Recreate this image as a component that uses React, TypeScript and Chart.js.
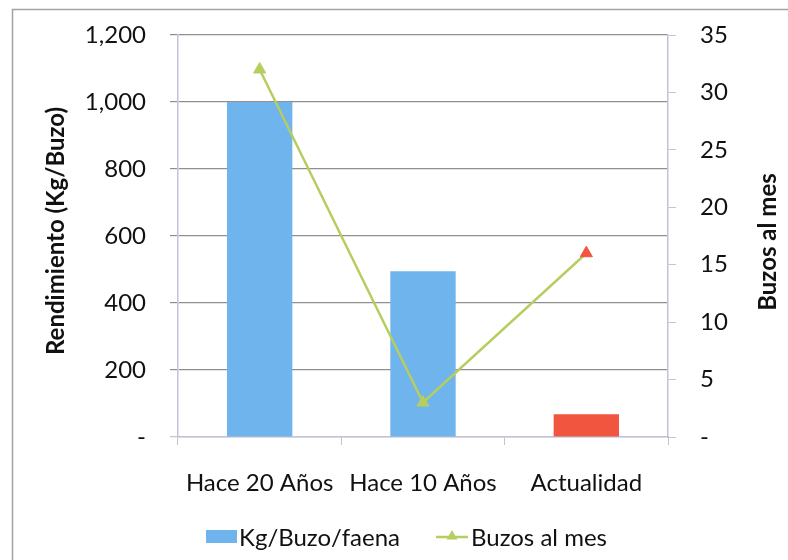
import React, { useEffect, useRef } from "react";
import { Chart, registerables } from "chart.js";

Chart.register(...registerables);

const categories = ["Hace 20 Años", "Hace 10 Años", "Actualidad"];
const kgPorBuzo = [1000, 495, 68];
const buzosAlMes = [32, 3, 16];
const barColors = ["#6fb4ec", "#6fb4ec", "#f2553f"];
const pointColors = ["#b6cd5f", "#b6cd5f", "#f2553f"];
const barLabel = "Kg/Buzo/faena";
const lineLabel = "Buzos al mes";
const leftTitle = "Rendimiento (Kg/Buzo)";
const rightTitle = "Buzos al mes";

const FONT = "Lato";
const LINE_COLOR = "#b6cd5f";
const GRID = "#8f8f8f";
const AXIS = "#c3c3d6";

function fmt(v: number) {
  return v === 0 ? "-" : v.toLocaleString("en-US");
}

function triangle(ctx: CanvasRenderingContext2D, x: number, y: number, r: number) {
  ctx.beginPath();
  ctx.moveTo(x, y - r);
  ctx.lineTo(x + r * 0.9, y + r * 0.6);
  ctx.lineTo(x - r * 0.9, y + r * 0.6);
  ctx.closePath();
  ctx.fill();
}

const decor = {
  id: "decor",
  afterDraw(chart: any) {
    const ctx: CanvasRenderingContext2D = chart.ctx;
    ctx.save();
    // outer frame
    ctx.strokeStyle = "#a3a3a3";
    ctx.lineWidth = 1.5;
    ctx.beginPath();
    ctx.moveTo(12.5, 560);
    ctx.lineTo(12.5, 9.5);
    ctx.lineTo(788, 9.5);
    ctx.stroke();
    // axis titles
    ctx.fillStyle = "#111";
    ctx.font = `bold 24px ${FONT}`;
    ctx.textAlign = "center";
    ctx.textBaseline = "middle";
    ctx.save();
    ctx.translate(56, 231);
    ctx.rotate(-Math.PI / 2);
    ctx.fillText(leftTitle, 0, 0);
    ctx.restore();
    ctx.save();
    ctx.translate(768, 242);
    ctx.rotate(-Math.PI / 2);
    ctx.fillText(rightTitle, 0, 0);
    ctx.restore();
    // legend
    const ly = 538;
    ctx.font = `24px ${FONT}`;
    ctx.textAlign = "left";
    ctx.fillStyle = barColors[0];
    ctx.fillRect(206, ly - 8, 31, 13);
    ctx.fillStyle = "#111";
    ctx.fillText(barLabel, 239, ly);
    ctx.strokeStyle = LINE_COLOR;
    ctx.lineWidth = 2.5;
    ctx.beginPath();
    ctx.moveTo(436, ly - 1);
    ctx.lineTo(468, ly - 1);
    ctx.stroke();
    ctx.fillStyle = LINE_COLOR;
    triangle(ctx, 452, ly - 2, 6);
    ctx.fillStyle = "#111";
    ctx.fillText(lineLabel, 471, ly);
    ctx.restore();
  },
};

export default function App() {
  const ref = useRef<HTMLCanvasElement>(null);
  useEffect(() => {
    document.body.style.margin = "0";
    Chart.defaults.font.family = FONT;
    Chart.defaults.color = "#111";
    const chart = new Chart(ref.current!, {
      type: "bar",
      data: {
        labels: categories,
        datasets: [
          {
            type: "line",
            label: lineLabel,
            data: buzosAlMes,
            yAxisID: "y1",
            borderColor: LINE_COLOR,
            borderWidth: 2.5,
            pointStyle: "triangle",
            pointRadius: 7,
            pointBackgroundColor: pointColors,
            pointBorderColor: pointColors,
            pointBorderWidth: 1,
            tension: 0,
            order: 0,
          } as any,
          {
            type: "bar",
            label: barLabel,
            data: kgPorBuzo,
            yAxisID: "y",
            backgroundColor: barColors,
            borderWidth: 0,
            barPercentage: 0.4,
            categoryPercentage: 1,
            order: 1,
          },
        ],
      },
      options: {
        responsive: false,
        animation: false,
        layout: { padding: { top: 35, left: 0, right: 0, bottom: 0 } },
        plugins: { legend: { display: false }, tooltip: { enabled: false } },
        scales: {
          x: {
            grid: { drawOnChartArea: false, drawTicks: true, tickLength: 8, color: AXIS, offset: true },
            border: { color: AXIS, width: 1.5 },
            ticks: { font: { size: 24 }, padding: 24, color: "#111" },
            afterFit: (s: any) => {
              s.height = 123;
              s.paddingLeft = 0;
              s.paddingRight = 0;
            },
          },
          y: {
            position: "left",
            min: 0,
            max: 1200,
            ticks: { stepSize: 200, font: { size: 24 }, padding: 24, color: "#111", callback: (v: any) => fmt(Number(v)) },
            grid: {
              color: (c: any) => (c.tick && c.tick.value === 0 ? AXIS : GRID),
              tickLength: 8,
              lineWidth: 1.2,
            },
            border: { color: AXIS, width: 1.5 },
            afterFit: (s: any) => {
              s.width = 178;
              s.paddingTop = 0;
              s.paddingBottom = 0;
            },
          },
          y1: {
            position: "right",
            min: 0,
            max: 35,
            ticks: { stepSize: 5, font: { size: 24 }, padding: 24, color: "#111", callback: (v: any) => fmt(Number(v)) },
            grid: { drawOnChartArea: false, color: AXIS, tickLength: 8 },
            border: { color: AXIS, width: 1.5 },
            afterFit: (s: any) => {
              s.width = 120;
              s.paddingTop = 0;
              s.paddingBottom = 0;
            },
          },
        },
      },
      plugins: [decor],
    });
    return () => chart.destroy();
  }, []);
  return (
    <div style={{ width: 788, height: 560 }}>
      <canvas ref={ref} width={788} height={560} />
    </div>
  );
}
